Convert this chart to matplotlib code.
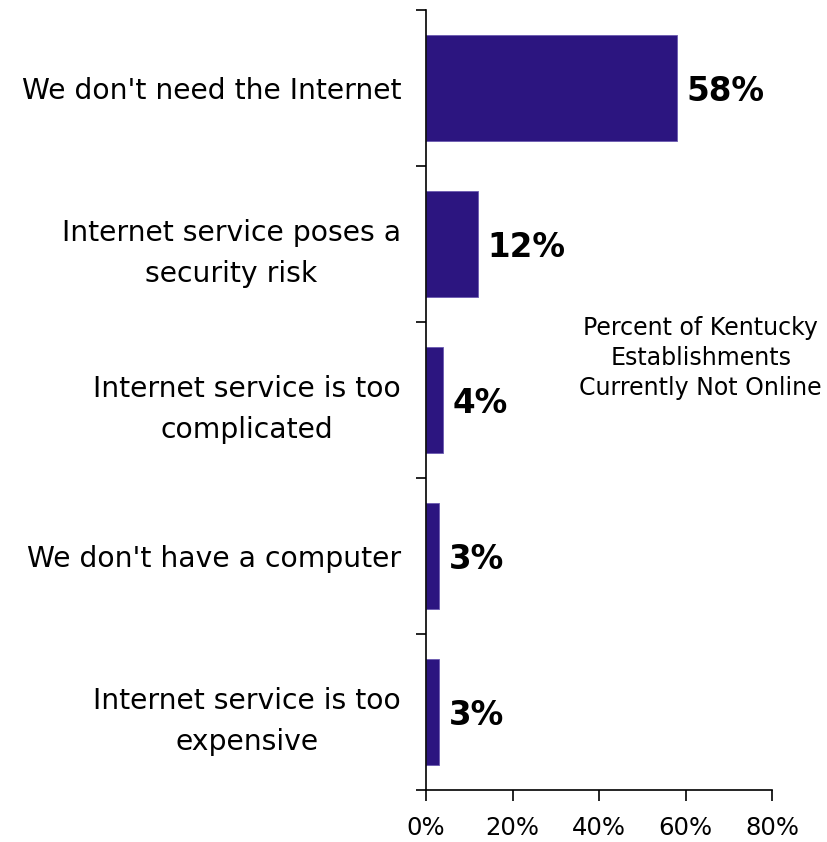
import matplotlib
matplotlib.use("Agg")
import matplotlib.pyplot as plt
from matplotlib.ticker import FixedLocator

categories = [
    "We don't need the Internet",
    "Internet service poses a\nsecurity risk",
    "Internet service is too\ncomplicated",
    "We don't have a computer",
    "Internet service is too\nexpensive",
]
values = [58, 12, 4, 3, 3]
x_ticks = [0, 20, 40, 60, 80]
x_tick_labels = ["0%", "20%", "40%", "60%", "80%"]
note = "Percent of Kentucky\nEstablishments\nCurrently Not Online"

bar_color = "#2C1580"
plt.rcParams["font.family"] = ["DejaVu Sans"]

fig = plt.figure(figsize=(8.27, 8.42), dpi=100)
ax = fig.add_axes([426 / 827, 1 - 790 / 842, (772 - 426) / 827, (790 - 10) / 842])

pos = list(range(len(categories)))
ax.barh(pos, values, height=0.68, color=bar_color, edgecolor="#6A5AB0", linewidth=0.6)
ax.set_ylim(len(categories) - 0.5, -0.5)
ax.set_xlim(0, 80)

for p, v in zip(pos, values):
    ax.text(v + 2.2, p + 0.02, f"{v}%", va="center", ha="left",
            fontsize=23.5, fontweight="bold", color="black")

ax.set_yticks(pos)
ax.set_yticklabels(categories, fontsize=20.3, multialignment="center",
                   linespacing=1.6)
ax.tick_params(axis="y", which="major", length=0, pad=18)
ax.yaxis.set_minor_locator(FixedLocator([i - 0.5 for i in range(len(categories) + 1)]))
ax.tick_params(axis="y", which="minor", length=7, width=1.2, direction="out")

ax.set_xticks(x_ticks)
ax.set_xticklabels(x_tick_labels, fontsize=17.5)
ax.tick_params(axis="x", length=8, width=1.2, direction="out", pad=11)

for side in ("top", "right"):
    ax.spines[side].set_visible(False)
for side in ("left", "bottom"):
    ax.spines[side].set_linewidth(1.2)

ax.text(63.5, 1.73, note, ha="center", va="center", fontsize=17,
        linespacing=1.32)

fig.savefig("out.png", dpi=100)
